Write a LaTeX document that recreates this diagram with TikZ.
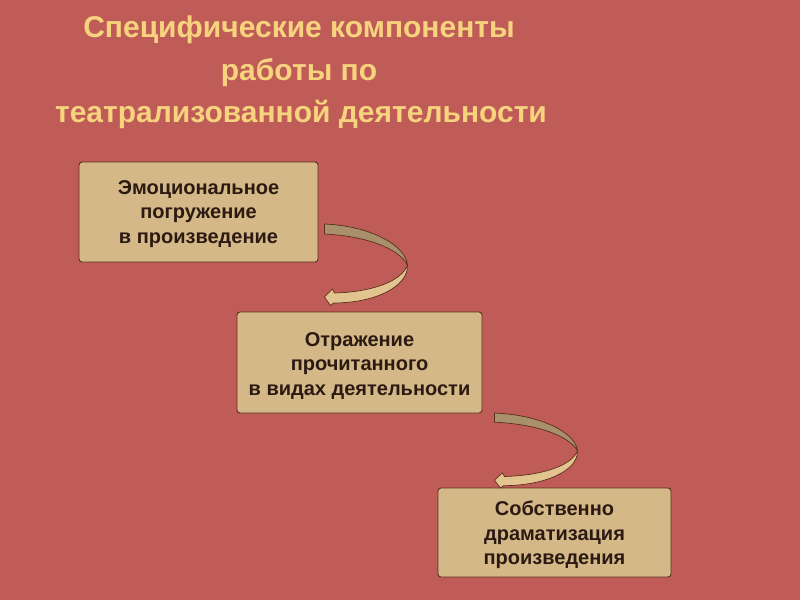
\documentclass[tikz,border=0pt]{standalone}
\usepackage{fontspec}
\setmainfont{Liberation Sans}
\usetikzlibrary{calc}
\definecolor{bgred}{HTML}{C05C58}
\definecolor{titlecol}{HTML}{F7D37E}
\definecolor{boxfill}{HTML}{D5B887}
\definecolor{boxline}{HTML}{5A2E1E}
\definecolor{boxtext}{HTML}{2B1A12}
\definecolor{banddark}{HTML}{A8916A}
\definecolor{bandlight}{HTML}{E2C58E}
\tikzset{
  stepbox/.style={draw=boxline, line width=0.9pt, fill=boxfill, rounded corners=3pt,
    inner sep=0pt},
  boxlabel/.style={align=center, text=boxtext, inner sep=0pt,
    font=\bfseries\fontsize{20}{24.3}\selectfont},
  titletext/.style={anchor=base, text=titlecol, inner sep=0pt,
    font=\bfseries\fontsize{30}{36}\selectfont},
  bandedge/.style={draw=boxline, line width=0.7pt, line join=round},
  curvearr/.pic={
    \path[bandedge, fill=banddark] (0,0) .. controls (46,2) and (81,21) .. (83,41)
      .. controls (74,24) and (41,12) .. (0,10) -- cycle;
    \path[bandedge, fill=bandlight] (83,41) .. controls (77,58) and (46,68) .. (10,69)
      -- (8,65) -- (0,73) -- (6,81.5) -- (9,79)
      .. controls (50,79) and (84,63) .. (83,41) -- cycle;
  }
}
\begin{document}
\begin{tikzpicture}[x=1pt,y=-1pt]
\fill[bgred] (0,0) rectangle (800,600);
\useasboundingbox (0,0) rectangle (800,600);
\node[titletext] (title1) at (299,37) {Специфические компоненты};
\node[titletext] (title2) at (299,80) {работы по};
\node[titletext] (title3) at (301,122) {театрализованной деятельности};
\node[stepbox, minimum width=239pt, minimum height=100pt] (b1) at (198.5,212) {};
\node[stepbox, minimum width=245pt, minimum height=101pt] (b2) at (359.5,362.5) {};
\node[stepbox, minimum width=233pt, minimum height=89pt] (b3) at (554.5,532.5) {};
\node[boxlabel] (t1) at ($(b1.center)+(0,2)$) {Эмоциональное\\погружение\\в произведение};
\node[boxlabel] (t2) at ($(b2.center)+(0,3.5)$) {Отражение\\прочитанного\\в видах деятельности};
\node[boxlabel] (t3) at ($(b3.center)+(0,2.5)$) {Собственно\\драматизация\\произведения};
\coordinate (a1) at ($(b1.east)+(6,12)$);
\coordinate (a2) at ($(b2.east)+(12,50.5)$);
\pic at (a1) {curvearr};
\pic[yscale=0.92] at (a2) {curvearr};
\end{tikzpicture}
\end{document}
